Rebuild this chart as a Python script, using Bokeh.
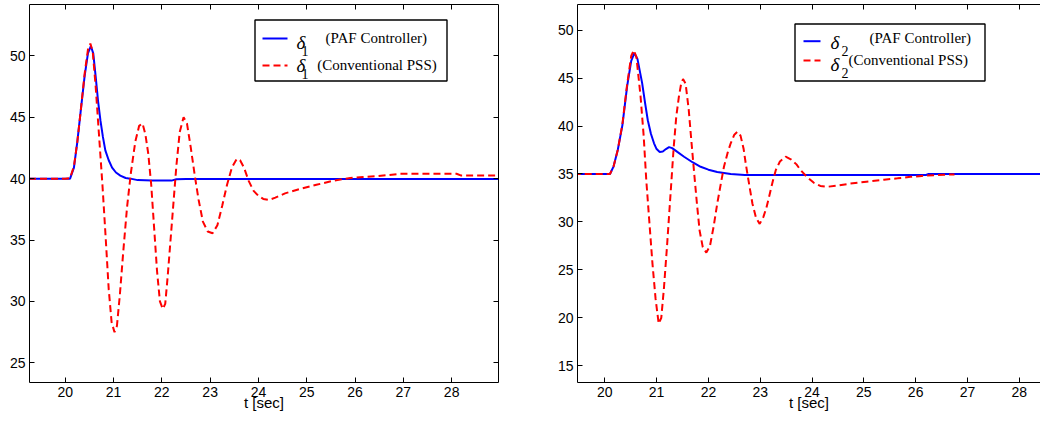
from bokeh.plotting import figure
from bokeh.layouts import row
from bokeh.models import Range1d, FixedTicker, LinearAxis, BoxAnnotation, Label
from bokeh.embed import file_html
from bokeh.resources import INLINE

# Rotor angle of generator 1 [deg] after the disturbance at t = 20 s
t1_paf = [19.25, 20.1, 20.18, 20.25, 20.32, 20.4, 20.47, 20.53, 20.58, 20.63, 20.68, 20.73,
          20.78, 20.83, 20.9, 20.97, 21.05, 21.14, 21.25, 21.35, 21.5, 21.8, 22.2, 22.3,
          22.5, 28.97]
d1_paf = [40.0, 40.0, 40.9, 43.0, 45.5, 48.3, 50.2, 50.8, 50.2, 48.3, 46.3, 44.7,
          43.4, 42.3, 41.5, 40.9, 40.5, 40.25, 40.05, 40.0, 39.88, 39.84, 39.84, 39.95,
          39.98, 39.98]

t1_pss = [19.25, 20.0, 20.1, 20.18, 20.25, 20.32, 20.4, 20.47, 20.52, 20.57, 20.63, 20.7,
          20.77, 20.84, 20.9, 20.96, 21.02, 21.07, 21.13, 21.2, 21.28, 21.36, 21.45, 21.53,
          21.6, 21.66, 21.72, 21.78, 21.84, 21.9, 21.96, 22.02, 22.07, 22.12, 22.18, 22.24,
          22.3, 22.37, 22.45, 22.52, 22.6, 22.68, 22.76, 22.85, 22.95, 23.05, 23.15, 23.25,
          23.35, 23.45, 23.55, 23.62, 23.7, 23.8, 23.9, 24.0, 24.1, 24.22, 24.35, 24.55,
          24.87, 25.2, 25.56, 25.9, 26.2, 26.46, 26.7, 26.94, 27.5, 28.1, 28.2, 28.97]
d1_pss = [40.0, 40.0, 40.05, 41.0, 43.0, 45.5, 48.5, 50.5, 51.0, 50.3, 47.5, 43.5,
          39.5, 35.0, 31.0, 28.3, 27.5, 28.0, 30.5, 34.0, 37.7, 40.5, 43.0, 44.3,
          44.5, 43.6, 42.0, 39.5, 36.0, 32.5, 30.0, 29.4, 29.8, 32.0, 35.0, 38.0,
          41.0, 43.8, 45.0, 44.5, 42.5, 40.3, 38.3, 36.5, 35.7, 35.55, 36.2, 37.8,
          39.5, 40.9, 41.6, 41.5, 40.9, 39.8, 39.0, 38.6, 38.35, 38.27, 38.45, 38.8,
          39.17, 39.5, 39.84, 40.05, 40.15, 40.2, 40.3, 40.4, 40.4, 40.4, 40.25, 40.25]

# Rotor angle of generator 2 [deg]
t2_paf = [19.4, 20.1, 20.17, 20.25, 20.34, 20.43, 20.51, 20.57, 20.63, 20.72, 20.78, 20.83,
          20.89, 20.95, 21.0, 21.06, 21.12, 21.18, 21.24, 21.3, 21.4, 21.53, 21.7, 21.85,
          22.0, 22.17, 22.43, 22.7, 26.2, 26.25, 28.5]
d2_paf = [35.0, 35.0, 35.8, 37.5, 40.1, 44.1, 46.8, 47.6, 47.0, 44.5, 42.3, 40.6,
          39.2, 38.2, 37.6, 37.3, 37.35, 37.6, 37.8, 37.7, 37.3, 36.8, 36.2, 35.75,
          35.45, 35.2, 35.0, 34.9, 34.9, 35.0, 35.0]

t2_pss = [19.4, 20.1, 20.17, 20.25, 20.34, 20.43, 20.51, 20.56, 20.61, 20.69, 20.75, 20.8,
          20.86, 20.92, 20.98, 21.04, 21.09, 21.14, 21.2, 21.27, 21.33, 21.38, 21.43, 21.47,
          21.51, 21.56, 21.62, 21.67, 21.72, 21.78, 21.83, 21.89, 21.96, 22.03, 22.1, 22.17,
          22.24, 22.3, 22.37, 22.43, 22.5, 22.56, 22.62, 22.68, 22.72, 22.79, 22.85, 22.92,
          22.99, 23.06, 23.12, 23.17, 23.24, 23.3, 23.38, 23.49, 23.6, 23.7, 23.78, 23.9,
          24.03, 24.16, 24.29, 24.5, 24.74, 25.05, 25.39, 25.65, 25.9, 26.12, 26.35, 26.55,
          26.75]
d2_pss = [35.0, 35.0, 35.8, 37.5, 40.2, 44.3, 47.3, 47.9, 47.2, 43.1, 39.0, 34.4,
          30.0, 25.65, 22.0, 19.4, 20.0, 23.0, 27.4, 33.0, 37.8, 41.0, 43.06, 44.3,
          44.9, 44.4, 41.7, 38.5, 35.4, 31.8, 29.1, 27.4, 26.8, 27.5, 29.5, 31.9,
          34.0, 35.75, 37.2, 38.2, 39.1, 39.4, 39.0, 37.6, 36.1, 33.8, 31.9, 30.4,
          29.8, 30.5, 31.5, 32.6, 34.2, 35.4, 36.3, 36.8, 36.5, 36.0, 35.4, 34.7,
          34.1, 33.75, 33.66, 33.8, 34.0, 34.2, 34.4, 34.55, 34.7, 34.8, 34.88, 34.92,
          34.95]

time_ticks = [20, 21, 22, 23, 24, 25, 26, 27, 28]
angle_ticks_1 = [25, 30, 35, 40, 45, 50]
angle_ticks_2 = [15, 20, 25, 30, 35, 40, 45, 50]
legend_main = ["(PAF Controller)", "(Conventional PSS)"]

BLUE = "#0000ff"
RED = "#ff0000"
DASH = "7 4"
SANS = "Liberation Sans"
SERIF = "Liberation Serif"
H = 427
TOP = 4
BOTTOM = 45


def style_axis(ax, ticks, labels=True):
    ax.ticker = FixedTicker(ticks=ticks)
    ax.axis_line_color = "black"
    ax.axis_line_width = 1
    ax.major_tick_line_color = "black"
    ax.major_tick_in = 5
    ax.major_tick_out = 0
    ax.minor_tick_in = 0
    ax.minor_tick_out = 0
    ax.major_label_text_font = SANS
    ax.major_label_text_color = "black"
    if labels:
        ax.major_label_text_font_size = "14px"
        ax.major_label_standoff = 4
    else:
        ax.major_label_text_font_size = "0px"
        ax.major_label_standoff = 0
        ax.major_label_overrides = {t: "" for t in ticks}


def make_panel(width, b_left, b_right, xr, yr, yticks, with_right):
    p = figure(width=width, height=H, x_range=Range1d(*xr), y_range=Range1d(*yr),
               output_backend="svg", toolbar_location=None,
               min_border_left=b_left, min_border_right=b_right,
               min_border_top=TOP, min_border_bottom=BOTTOM)
    p.grid.visible = False
    p.outline_line_color = None
    p.background_fill_color = "white"
    p.border_fill_color = "white"
    style_axis(p.xaxis[0], time_ticks)
    style_axis(p.yaxis[0], yticks)
    p.xaxis[0].axis_label = "t [sec]"
    p.xaxis[0].axis_label_text_font = SANS
    p.xaxis[0].axis_label_text_font_size = "15px"
    p.xaxis[0].axis_label_text_font_style = "normal"
    p.xaxis[0].axis_label_text_color = "black"
    p.xaxis[0].axis_label_standoff = -6
    top = LinearAxis()
    style_axis(top, time_ticks, labels=False)
    p.add_layout(top, "above")
    if with_right:
        rgt = LinearAxis()
        style_axis(rgt, yticks, labels=False)
        p.add_layout(rgt, "right")
    return p


def frame_mapper(win_left, win_right, xr, yr):
    # converts window pixel positions inside a panel frame into data coordinates
    def to_x(px):
        return xr[0] + (px - win_left) / (win_right - win_left) * (xr[1] - xr[0])

    def to_y(py):
        return yr[1] - (py - TOP) / (H - TOP - BOTTOM) * (yr[1] - yr[0])
    return to_x, to_y


def add_legend(p, to_x, to_y, box, samples, deltas, subs, sub_text, texts):
    p.add_layout(BoxAnnotation(left=to_x(box[0] + 0.5), right=to_x(box[2] + 0.5),
                               top=to_y(box[1] + 0.5), bottom=to_y(box[3] + 0.5),
                               fill_color="white", fill_alpha=1.0,
                               line_color="black", line_alpha=1.0, line_width=1.4,
                               level="annotation"))
    for (x0, x1, y), color, dash in zip(samples, [BLUE, RED], ["solid", DASH]):
        p.line([to_x(x0), to_x(x1)], [to_y(y), to_y(y)], line_color=color,
               line_width=2, line_dash=dash, level="overlay")
    for (x, y) in deltas:
        p.add_layout(Label(x=to_x(x), y=to_y(y), text="\u03b4", text_font=SERIF,
                           text_font_style="italic", text_font_size="19px",
                           text_color="black", text_baseline="alphabetic",
                           text_align="left", level="overlay"))
    for (x, y) in subs:
        p.add_layout(Label(x=to_x(x), y=to_y(y), text=sub_text, text_font=SERIF,
                           text_font_size="14px", text_color="black",
                           text_baseline="alphabetic", text_align="left", level="overlay"))
    for (x, y), txt in zip(texts, legend_main):
        p.add_layout(Label(x=to_x(x), y=to_y(y), text=txt, text_font=SERIF,
                           text_font_size="15px", text_color="black",
                           text_baseline="middle", text_align="left", level="overlay"))


# left panel: generator 1
xr1 = (19.26, 28.97)
yr1 = (23.4, 54.18)
p1 = make_panel(520, 29, 22, xr1, yr1, angle_ticks_1, True)
p1.line(t1_paf, d1_paf, line_color=BLUE, line_width=2)
p1.line(t1_pss, d1_pss, line_color=RED, line_width=2, line_dash=DASH)
fx1, fy1 = frame_mapper(29, 498, xr1, yr1)
add_legend(p1, fx1, fy1, (254, 19, 446, 80),
           [(262, 287, 38), (262, 287, 65)],
           [(296, 41.7), (296, 65)], [(301, 50), (301, 73)], "1",
           [(325, 37.7), (316.7, 64.5)])

# right panel: generator 2
xr2 = (19.473, 28.41)
yr2 = (13.26, 52.67)
p2 = make_panel(520, 57, 0, xr2, yr2, angle_ticks_2, False)
p2.line(t2_paf, d2_paf, line_color=BLUE, line_width=2)
p2.line(t2_pss, d2_pss, line_color=RED, line_width=2, line_dash=DASH)
fx2, fy2 = frame_mapper(577, 1040, xr2, yr2)
add_legend(p2, fx2, fy2, (794, 23, 984, 80),
           [(803, 820, 40.7), (803, 820, 60)],
           [(830, 41.5), (830, 64)], [(841, 50), (841, 72)], "2",
           [(869, 37.5), (848, 59)])

layout = row(p1, p2)
open("out.html", "w").write(file_html(layout, INLINE))
